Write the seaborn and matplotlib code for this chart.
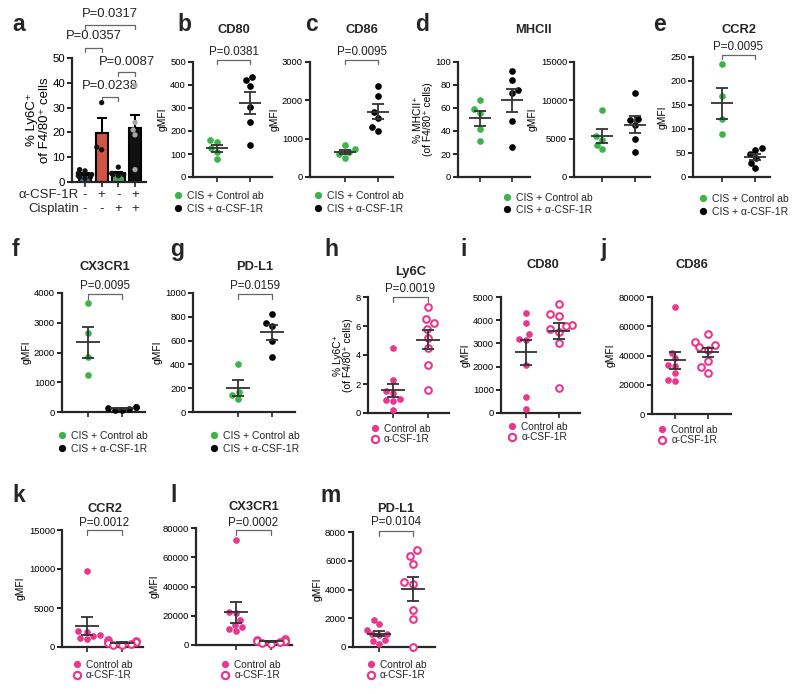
import numpy as np
import pandas as pd
import matplotlib
matplotlib.use("Agg")
import matplotlib.pyplot as plt
import matplotlib.transforms as mtrans
from matplotlib.lines import Line2D
import seaborn as sns

sns.set_theme(style="ticks")
plt.rcParams["font.family"] = ["Liberation Sans", "DejaVu Sans"]
plt.rcParams["axes.linewidth"] = 1.6

# ---------------- data ----------------
# panel a: % Ly6C+ of F4/80+ cells
a_csf1r_signs = ["-", "+", "-", "+"]
a_cis_signs = ["-", "-", "+", "+"]
a_ctrl = [5.0, 4.5, 3.5, 3.0, 2.5, 2.0, 2.0, 1.5]
a_csf1r = [32, 14, 13]
a_cis = [6.0, 3.5, 3.0, 3.0, 2.5]
a_cis_csf1r = [39, 24, 21, 19, 5]
a_pairs = [(0, 3), (0, 1), (2, 3), (1, 2)]
a_pvals = ["P=0.0317", "P=0.0357", "P=0.0087", "P=0.0238"]

# CIS + Control ab vs CIS + a-CSF-1R
b_ctrl = [160, 150, 125, 110, 80]
b_csf = [435, 420, 395, 305, 240, 140]
c_ctrl = [840, 720, 640, 590, 500]
c_csf = [2380, 2100, 1700, 1550, 1300, 1200]
d1_ctrl = [67, 59, 56, 42, 31]
d1_csf = [92, 84, 76, 73, 49, 26]
d2_ctrl = [8800, 5300, 4800, 4200, 3600]
d2_csf = [11000, 7600, 7400, 6800, 5000, 3200]
e_ctrl = [235, 168, 120, 90]
e_csf = [60, 57, 47, 40, 30, 18]
f_ctrl = [3650, 2650, 1850, 1250]
f_csf = [180, 160, 130, 100, 80, 60]
g_ctrl = [400, 165, 140, 110]
g_csf = [820, 750, 720, 600, 460]

# Control ab vs a-CSF-1R
h_ctrl = [4.45, 2.3, 1.5, 1.35, 1.0, 0.9, 0.85, 0.2]
h_csf = [7.3, 6.5, 6.2, 5.8, 5.2, 4.5, 3.3, 1.6]
i_ctrl = [4330, 3880, 3400, 3200, 3150, 2050, 680, 180]
i_csf = [4700, 4250, 4200, 3800, 3750, 3600, 3500, 3000, 1080]
j_ctrl = [73000, 42000, 38000, 33500, 33000, 28000, 23500, 22500]
j_csf = [54500, 49000, 47500, 45500, 44000, 36000, 32000, 28000]
k_ctrl = [9700, 2000, 1900, 1500, 1400, 1200, 1000]
k_csf = [900, 800, 700, 600, 500, 400, 300, 200]
l_ctrl = [71500, 22500, 22000, 17000, 14000, 12000, 11000, 9500]
l_csf = [4000, 3500, 3000, 2500, 2500, 2000, 1500, 1000]
m_ctrl = [1900, 1580, 1200, 900, 880, 850, 460, 400, 200]
m_csf = [6770, 6330, 5750, 4520, 4400, 2600, 1970, 0]

# ---------------- style ----------------
GREEN = "#3bb54a"
PINK = "#e9378c"
BAR_COLORS = ["#3f6fc0", "#e8432d", "#3db54a", "#111111"]
BAR_DOTS = ["#111111", "#111111", "#111111", "#a8a8a8"]
SCHEMES = {
    "cis": (("CIS + Control ab", "CIS + α-CSF-1R"), (GREEN, "black"), (False, False)),
    "pink": (("Control ab", "α-CSF-1R"), (PINK, PINK), (False, True)),
}

W, H = 800, 694
fig = plt.figure(figsize=(W / 100, H / 100), dpi=100)


def fy(py):
    return 1 - py / H


def px_axes(left, top, right, bottom):
    return fig.add_axes([left / W, 1 - bottom / H, (right - left) / W, (bottom - top) / H])


def style_axes(ax, ticks, tick_size=6.8):
    sns.despine(ax=ax)
    for s in ("left", "bottom"):
        ax.spines[s].set_linewidth(1.6)
    ax.set_ylim(0, ticks[-1])
    ax.set_yticks(ticks)
    ax.set_yticklabels([str(t) for t in ticks])
    ax.tick_params(axis="y", length=3.5, width=1.2, labelsize=tick_size, pad=1.5, colors="black")
    ax.tick_params(axis="x", length=3.5, width=1.2, labelbottom=False)
    ax.set_xlabel("")
    ax.patch.set_alpha(0)


def bracket(ax, x0, x1, y_px, top_px, bottom_px, text, fs, text_px=None):
    frac = (bottom_px - y_px) / (bottom_px - top_px)
    tr = mtrans.blended_transform_factory(ax.transData, ax.transAxes)
    drop = 4.5 / (bottom_px - top_px)
    ax.plot([x0, x0, x1, x1], [frac - drop, frac, frac, frac - drop], color="#666666",
            lw=0.9, transform=tr, clip_on=False)
    if text_px is None:
        text_px = y_px - 8
    tfrac = (bottom_px - text_px) / (bottom_px - top_px)
    ax.text((x0 + x1) / 2, tfrac, text, transform=tr, ha="center", va="center",
            fontsize=fs, color="#222222")


def add_legend(scheme, mx, row1, pitch, fs=7.5):
    labels, colors, opens = SCHEMES[scheme]
    handles = []
    for c, o in zip(colors, opens):
        handles.append(Line2D([], [], ls="", marker="o", markersize=5.2,
                              markerfacecolor="white" if o else c,
                              markeredgecolor=c, markeredgewidth=1.6 if o else 0))
    fs_px = fs * 100 / 72
    ls = max((pitch - 1.17 * fs_px) / fs_px, 0)
    hl = 0.8
    fig.legend(handles, labels, loc="upper left",
               bbox_to_anchor=((mx - hl * fs_px / 2) / W, fy(row1 - 0.6 * fs_px)),
               frameon=False, fontsize=fs, handlelength=hl, handletextpad=0.5,
               labelspacing=ls, borderpad=0, borderaxespad=0)


def dot_panel(box, gpx, ctrl, trt, ticks, ylabel, scheme, pval=None,
              br_px=None, txt_px=None, title=None, title_px=None, ylabel_size=7.4):
    left, top, right, bottom = box
    ax = px_axes(left, top, right, bottom)
    labels, colors, opens = SCHEMES[scheme]
    names = ["g0", "g1"]
    for i, (vals, col, op) in enumerate(zip((ctrl, trt), colors, opens)):
        n_before = len(ax.collections)
        sns.swarmplot(x=[names[i]] * len(vals), y=vals, order=names, color=col,
                      size=4.8, ax=ax, zorder=3, clip_on=False, linewidth=0,
                      warn_thresh=1.0)
        if op:
            for coll in ax.collections[n_before:]:
                coll.set_facecolor("white")
                coll.set_edgecolor(col)
                coll.set_linewidth(1.5)
        arr = np.asarray(vals, dtype=float)
        mean = arr.mean()
        sem = arr.std(ddof=1) / np.sqrt(len(arr))
        ax.hlines(mean, i - 0.34, i + 0.34, color="#333333", lw=1.3, zorder=4)
        ax.errorbar(i, mean, yerr=sem, fmt="none", ecolor="#333333", elinewidth=1.3,
                    capsize=4.6, capthick=1.3, zorder=4)
    unit = gpx[1] - gpx[0]
    ax.set_xlim((left - gpx[0]) / unit, (right - gpx[0]) / unit)
    ax.set_xticks([0, 1])
    style_axes(ax, ticks)
    ax.set_ylabel(ylabel, fontsize=ylabel_size, labelpad=2, color="black", linespacing=1.0)
    if pval is not None:
        bracket(ax, 0, 1, br_px, top, bottom, pval, 8.4, txt_px)
    if title is not None:
        tr = mtrans.blended_transform_factory(ax.transData, fig.transFigure)
        ax.text(0.5, fy(title_px), title, transform=tr, ha="center", va="center",
                fontsize=9.3, fontweight="bold")
    return ax


# ---------------- panel a ----------------
a_groups = [a_ctrl, a_csf1r, a_cis, a_cis_csf1r]
a_names = ["n0", "n1", "n2", "n3"]
df_a = pd.DataFrame({"grp": np.repeat(a_names, [len(v) for v in a_groups]),
                     "val": np.concatenate([np.asarray(v, float) for v in a_groups])})
axa = px_axes(72, 58, 146, 182)
sns.barplot(data=df_a, x="grp", y="val", order=a_names, hue="grp", hue_order=a_names,
            palette=dict(zip(a_names, BAR_COLORS)), errorbar=None, width=0.74,
            edgecolor="black", linewidth=1.5, ax=axa, legend=False, zorder=2)
means = df_a.groupby("grp")["val"].mean().reindex(a_names).values
sems = df_a.groupby("grp")["val"].sem().reindex(a_names).values
axa.errorbar(np.arange(4), means, yerr=[np.zeros(4), sems], fmt="none", ecolor="black",
             elinewidth=1.5, capsize=3.6, capthick=1.5, zorder=3)
sns.swarmplot(data=df_a, x="grp", y="val", order=a_names, hue="grp", hue_order=a_names,
              palette=dict(zip(a_names, BAR_DOTS)), size=3.8, ax=axa, legend=False,
              zorder=4, clip_on=False, linewidth=0, warn_thresh=1.0)
unit_a = (135 - 85) / 3
axa.set_xlim((72 - 85) / unit_a, (146 - 85) / unit_a)
axa.set_xticks(range(4))
style_axes(axa, [0, 10, 20, 30, 40, 50], tick_size=8.2)
axa.set_ylabel("% Ly6C⁺\nof F4/80⁺ cells", fontsize=9.5, labelpad=1, linespacing=1.05,
               color="black")
tra = mtrans.blended_transform_factory(axa.transData, fig.transFigure)
for i in range(4):
    axa.text(i, fy(195), a_csf1r_signs[i], transform=tra, ha="center", va="center", fontsize=9.5)
    axa.text(i, fy(209), a_cis_signs[i], transform=tra, ha="center", va="center", fontsize=9.5)
fig.text(79 / W, fy(195), "α-CSF-1R", ha="right", va="center", fontsize=9.5)
fig.text(79 / W, fy(209), "Cisplatin", ha="right", va="center", fontsize=9.5)
a_levels = [(25, 14), (48, 36), (72, 62), (97, 86)]
for (p0, p1), txt, (ybr, ytx) in zip(a_pairs, a_pvals, a_levels):
    bracket(axa, p0, p1, ybr, 58, 182, txt, 9.4, ytx)

# ---------------- row 1 ----------------
dot_panel((193, 62, 272, 177), (217, 250), b_ctrl, b_csf, [0, 100, 200, 300, 400, 500],
          "gMFI", "cis", "P=0.0381", 60, 52, "CD80", 30)
dot_panel((310, 62, 393, 177), (345, 378), c_ctrl, c_csf, [0, 1000, 2000, 3000],
          "gMFI", "cis", "P=0.0095", 60, 52, "CD86", 30)
dot_panel((458, 62, 530, 177), (480, 512), d1_ctrl, d1_csf, [0, 20, 40, 60, 80, 100],
          "% MHCII⁺\n(of F4/80⁺ cells)", "cis")
dot_panel((574, 62, 650, 177), (602, 635), d2_ctrl, d2_csf, [0, 5000, 10000, 15000],
          "gMFI", "cis")
fig.text(533 / W, fy(30), "MHCII", ha="center", va="center", fontsize=9.3, fontweight="bold")
dot_panel((693, 57, 770, 177), (722, 755), e_ctrl, e_csf, [0, 50, 100, 150, 200, 250],
          "gMFI", "cis", "P=0.0095", 55, 47, "CCR2", 30)

# ---------------- row 2 ----------------
dot_panel((62, 293, 145, 412), (88, 122), f_ctrl, f_csf, [0, 1000, 2000, 3000, 4000],
          "gMFI", "cis", "P=0.0095", 294, 286, "CX3CR1", 267)
dot_panel((193, 293, 295, 412), (238, 272), g_ctrl, g_csf, [0, 200, 400, 600, 800, 1000],
          "gMFI", "cis", "P=0.0159", 294, 286, "PD-L1", 267)
dot_panel((368, 297, 449, 413), (393, 428), h_ctrl, h_csf, [0, 2, 4, 6, 8],
          "% Ly6C⁺\n(of F4/80⁺ cells)", "pink", "P=0.0019", 297, 289, "Ly6C", 272)
dot_panel((501, 297, 580, 413), (526, 559), i_ctrl, i_csf, [0, 1000, 2000, 3000, 4000, 5000],
          "gMFI", "pink", title="CD80", title_px=265)
dot_panel((652, 297, 731, 414), (675, 708), j_ctrl, j_csf, [0, 20000, 40000, 60000, 80000],
          "gMFI", "pink", title="CD86", title_px=265)

# ---------------- row 3 ----------------
dot_panel((62, 530, 143, 647), (87, 122), k_ctrl, k_csf, [0, 5000, 10000, 15000],
          "gMFI", "pink", "P=0.0012", 530, 523, "CCR2", 509)
dot_panel((196, 528, 292, 645), (236, 271), l_ctrl, l_csf, [0, 20000, 40000, 60000, 80000],
          "gMFI", "pink", "P=0.0002", 530, 523, "CX3CR1", 507)
dot_panel((353, 532, 435, 647), (379, 413), m_ctrl, m_csf, [0, 2000, 4000, 6000, 8000],
          "gMFI", "pink", "P=0.0104", 531, 522, "PD-L1", 509)

# ---------------- legends ----------------
add_legend("cis", 178, 197, 15)
add_legend("cis", 318, 197, 15)
add_legend("cis", 507, 199, 14)
add_legend("cis", 703, 200, 15)
add_legend("cis", 62, 437, 15)
add_legend("cis", 214, 437, 15)
add_legend("pink", 375, 430, 12, 7.3)
add_legend("pink", 512, 428, 12, 7.3)
add_legend("pink", 662, 431, 12, 7.3)
add_legend("pink", 77, 666, 12, 7.3)
add_legend("pink", 225, 666, 12, 7.3)
add_legend("pink", 371, 666, 12, 7.3)

# ---------------- panel letters ----------------
letters = [("a", 12, 31), ("b", 177, 31), ("c", 305, 31), ("d", 415, 31), ("e", 653, 31),
           ("f", 12, 256), ("g", 170, 256), ("h", 324, 256), ("i", 460, 256), ("j", 600, 256),
           ("k", 12, 502), ("l", 170, 502), ("m", 320, 502)]
for ch, x, y in letters:
    fig.text(x / W, fy(y), ch, ha="left", va="baseline", fontsize=16.5, fontweight="bold")

fig.savefig("out.png", dpi=100, facecolor="white")
